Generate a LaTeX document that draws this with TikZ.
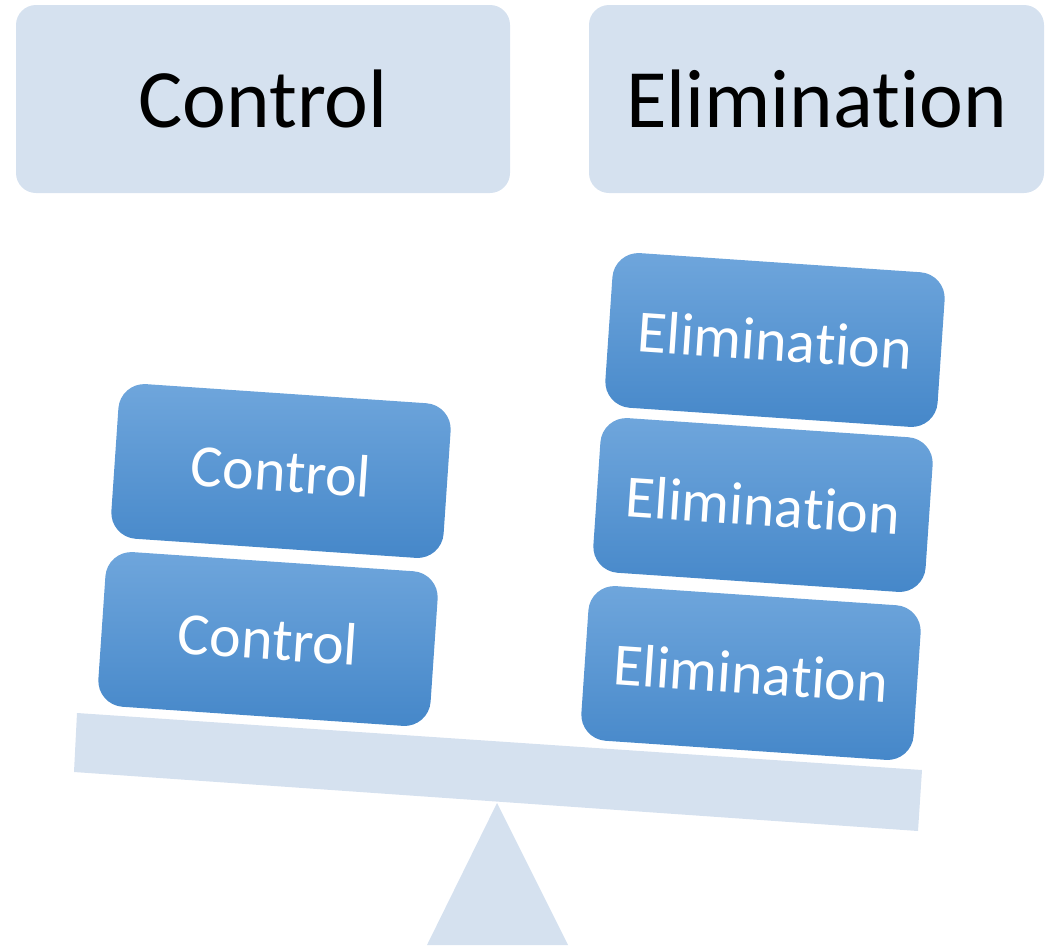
\documentclass[tikz,border=0pt]{standalone}
\usepackage{fontspec}
\setmainfont{Carlito}[RawFeature={-liga;-clig;-calt}]
\definecolor{pale}{HTML}{D5E1EF}
\definecolor{blueTop}{HTML}{6FA6DC}
\definecolor{blueBot}{HTML}{4587C9}
\begin{document}
\begin{tikzpicture}[x=1pt,y=-1pt,
  header/.style={fill=pale, rounded corners=20pt, inner sep=0pt, text=black,
    font=\fontsize{83}{90}\selectfont},
  weight/.style={top color=blueTop, bottom color=blueBot, draw=none,
    rounded corners=26pt, minimum width=333pt, minimum height=155pt,
    inner sep=0pt, text=white, rotate=-3.9,
    font=\fontsize{60}{66}\selectfont}]
\useasboundingbox (0,0) rectangle (1046,945);
% header boxes
\node[header, minimum width=494pt, minimum height=188pt] (hc) at (263,99) {Control};
\node[header, minimum width=455pt, minimum height=188pt] (he) at (816.5,99) {Elimination};
% fulcrum and beam
\fill[pale] (497,803) -- (568,945) -- (427,945) -- cycle;
\fill[pale] (77,713) -- (922,770) -- (918,831) -- (74,772) -- cycle;
% weights on the left
\node[weight] (c1) at (268,639) {Control};
\node[weight] (c2) at (281,471) {Control};
% weights on the right
\node[weight] (e1) at (751,673) {Elimination};
\node[weight] (e2) at (763,505) {Elimination};
\node[weight] (e3) at (775,340) {Elimination};
\end{tikzpicture}
\end{document}
